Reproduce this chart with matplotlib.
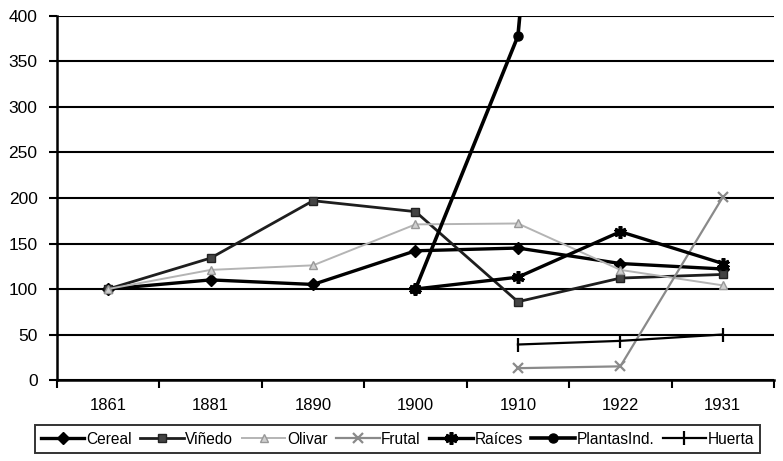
import numpy as np
import matplotlib
matplotlib.use("Agg")
import matplotlib.pyplot as plt
from matplotlib.lines import Line2D

plt.rcParams['font.family'] = ['Liberation Sans', 'DejaVu Sans']

years = ["1861", "1881", "1890", "1900", "1910", "1922", "1931"]
nan = np.nan
cereal = [100, 110, 105, 142, 145, 128, 122]
vinedo = [100, 134, 197, 185, 86, 112, 116]
olivar = [100, 121, 126, 171, 172, 121, 104]
frutal = [nan, nan, nan, nan, 13, 15, 201]
raices = [nan, nan, nan, 100, 113, 163, 128]
plantas = [nan, nan, nan, 100, 378, 1600, 1500]
huerta = [nan, nan, nan, nan, 39, 43, 50]
yticks = [0, 50, 100, 150, 200, 250, 300, 350, 400]

fig = plt.figure(figsize=(7.83, 4.61), dpi=100)
ax = fig.add_axes([0.0728, 0.1757, 0.9157, 0.7896])
x = np.arange(len(years))

series = [
    ("Cereal", cereal, dict(color="black", lw=2.4, marker="D", ms=6, mfc="black", mec="black")),
    ("Viñedo", vinedo, dict(color="#1e1e1e", lw=2.0, marker="s", ms=5.5, mfc="#444444", mec="#222222")),
    ("Olivar", olivar, dict(color="#b4b4b4", lw=1.4, marker="^", ms=6, mfc="#d0d0d0", mec="#999999")),
    ("Frutal", frutal, dict(color="#8a8a8a", lw=1.6, marker="x", ms=7, mew=1.6, mec="#8a8a8a")),
    ("Raíces", raices, dict(color="black", lw=2.4, marker=(6, 2, 0), ms=9, mew=2.6, mec="black")),
    ("PlantasInd.", plantas, dict(color="black", lw=2.6, marker="o", ms=6.5, mfc="black", mec="black")),
    ("Huerta", huerta, dict(color="black", lw=1.6, marker="|", ms=10, mew=1.6, mec="black")),
]

for y in yticks:
    ax.axhline(y, color="black", lw=1.5, zorder=1)

handles = []
for name, vals, kw in series:
    ax.plot(x, vals, zorder=3, clip_on=True, **kw)
    handles.append(Line2D([0], [0], label=name, **kw))

ax.set_xlim(-0.5, len(years) - 0.5)
ax.set_ylim(0, 400)
ax.set_yticks(yticks)
ax.set_xticks(x)
ax.set_xticklabels(years)
ax.set_xticks(np.arange(-0.5, len(years)), minor=True)
ax.tick_params(axis="x", which="major", length=0, pad=13, labelsize=12)
ax.tick_params(axis="x", which="minor", length=6, width=1.5, direction="out")
ax.tick_params(axis="y", length=6, width=1.5, direction="out", labelsize=12.5, pad=8)
for s in ["top", "right"]:
    ax.spines[s].set_visible(False)
ax.spines["left"].set_linewidth(1.8)
ax.spines["bottom"].set_linewidth(1.8)

leg = fig.legend(handles=handles, loc="center", bbox_to_anchor=(0.5077, 0.0477),
                 ncol=7, fontsize=11.2, frameon=True, fancybox=False,
                 handlelength=2.8, handletextpad=0.1, columnspacing=0.55,
                 borderpad=0.4, borderaxespad=0)
leg.get_frame().set_edgecolor("black")
leg.get_frame().set_linewidth(1.4)

fig.savefig("out.png", dpi=100, facecolor="white")
